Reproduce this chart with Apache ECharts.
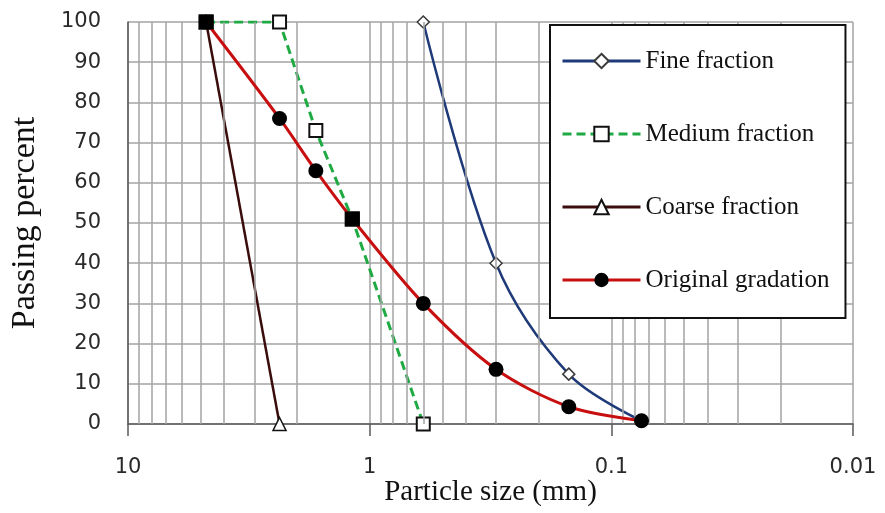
<!DOCTYPE html>
<html>
<head>
<meta charset="utf-8">
<script src="https://cdn.jsdelivr.net/npm/echarts@6/dist/echarts.min.js"></script>
<style>
  html, body { margin: 0; padding: 0; background: #ffffff; }
  #chart { width: 885px; height: 513px; }
</style>
</head>
<body>
<div id="chart"></div>
<script>
// Grain-size distribution curves (passing percent vs. particle size, log scale)
const fineSize = [0.6, 0.3, 0.15, 0.075];
const finePass = [100, 40, 12.4, 0.8];

const mediumSize = [4.75, 2.36, 1.67, 1.18, 0.6];
const mediumPass = [100, 100, 73, 51, 0];

const coarseSize = [4.75, 2.36];
const coarsePass = [100, 0];

const originalSize = [4.75, 2.36, 1.67, 1.18, 0.6, 0.3, 0.15, 0.075];
const originalPass = [100, 76, 63, 51, 30, 13.6, 4.3, 0.8];
const originalMarker = ['rect', 'circle', 'circle', 'rect', 'circle', 'circle', 'circle', 'circle'];

const seriesNames = ['Fine fraction', 'Medium fraction', 'Coarse fraction', 'Original gradation'];

// Minor vertical grid lines of the log axis: 2..9 within each decade
const gridMultipliers = [2, 3, 4, 5, 6, 7, 8, 9];
const gridDecades = [1, 0.1, 0.01];

const pairs = (xs, ys) => xs.map((x, i) => [x, ys[i]]);

const minorLines = [];
gridDecades.forEach(d => gridMultipliers.forEach(m => {
  minorLines.push({ xAxis: +(m * d).toPrecision(3) });
}));

const gridColor = '#a3a3a3';
const axisColor = '#5a5a5a';

const chart = echarts.init(document.getElementById('chart'), null, { renderer: 'canvas' });

chart.setOption({
  animation: false,
  backgroundColor: '#ffffff',
  grid: { left: 128, right: 32, top: 22, bottom: 89, containLabel: false, outerBoundsMode: 'none' },
  xAxis: {
    type: 'log',
    logBase: 10,
    min: 0.01,
    max: 10,
    inverse: true,
    name: 'Particle size (mm)',
    nameLocation: 'middle',
    nameGap: 54,
    nameMoveOverlap: false,
    nameTextStyle: { fontFamily: 'Liberation Serif', fontSize: 29, color: '#111' },
    axisLine: { show: true, lineStyle: { color: axisColor, width: 1.5 } },
    axisTick: { show: true, length: 12, lineStyle: { color: axisColor, width: 1.5 } },
    axisLabel: {
      margin: 33,
      fontFamily: 'DejaVu Sans',
      fontSize: 21,
      color: '#2a2a2a',
      formatter: v => String(+v.toPrecision(3))
    },
    splitLine: { show: true, lineStyle: { color: gridColor, width: 1.5 } },
    minorTick: { show: false },
    minorSplitLine: { show: false }
  },
  yAxis: {
    type: 'value',
    min: 0,
    max: 100,
    interval: 10,
    name: 'Passing percent',
    nameLocation: 'middle',
    nameGap: 86,
    nameMoveOverlap: false,
    nameRotate: 90,
    nameTextStyle: { fontFamily: 'Liberation Serif', fontSize: 34, color: '#111' },
    axisLine: { show: true, lineStyle: { color: axisColor, width: 1.5 } },
    axisTick: { show: false },
    axisLabel: { margin: 27, fontFamily: 'DejaVu Sans', fontSize: 21, color: '#2a2a2a' },
    splitLine: { show: true, lineStyle: { color: gridColor, width: 1.5 } }
  },
  legend: {
    data: seriesNames,
    orient: 'vertical',
    left: 550,
    top: 25,
    z: 20,
    padding: [22, 16, 24, 11],
    itemGap: 45,
    itemWidth: 78,
    itemHeight: 18,
    backgroundColor: '#ffffff',
    borderColor: '#111111',
    borderWidth: 2,
    borderRadius: 0,
    lineStyle: { width: 3 },
    textStyle: { fontFamily: 'Liberation Serif', fontSize: 25, lineHeight: 28, color: '#111' }
  },
  series: [
    {
      // carries the minor log grid lines
      type: 'line',
      name: 'grid',
      data: [],
      z: 1,
      silent: true,
      markLine: {
        silent: true,
        symbol: 'none',
        label: { show: false },
        lineStyle: { color: gridColor, width: 1.5, type: 'solid' },
        data: minorLines
      }
    },
    {
      type: 'line',
      name: seriesNames[0],
      data: pairs(fineSize, finePass),
      smooth: 0.35,
      z: 3,
      symbol: 'diamond',
      symbolSize: 12,
      lineStyle: { color: '#1f3a78', width: 2.5 },
      itemStyle: { color: '#ffffff', borderColor: '#3a3a3a', borderWidth: 1.5 }
    },
    {
      type: 'line',
      name: seriesNames[1],
      data: pairs(mediumSize, mediumPass),
      z: 4,
      symbol: 'rect',
      symbolSize: 13,
      lineStyle: { color: '#1faa44', width: 3, type: [9, 5] },
      itemStyle: { color: '#ffffff', borderColor: '#111111', borderWidth: 2 }
    },
    {
      type: 'line',
      name: seriesNames[2],
      data: pairs(coarseSize, coarsePass),
      z: 4,
      symbol: 'triangle',
      symbolSize: 13,
      lineStyle: { color: '#3a0c0c', width: 2.5 },
      itemStyle: { color: '#ffffff', borderColor: '#111111', borderWidth: 1.5 }
    },
    {
      type: 'line',
      name: seriesNames[3],
      data: originalSize.map((x, i) => ({ value: [x, originalPass[i]], symbol: originalMarker[i] })),
      smooth: 0.3,
      z: 5,
      symbol: 'circle',
      symbolSize: 15,
      lineStyle: { color: '#c80f0f', width: 3 },
      itemStyle: { color: '#000000', borderColor: '#000000', borderWidth: 0 }
    }
  ]
});
</script>
</body>
</html>
